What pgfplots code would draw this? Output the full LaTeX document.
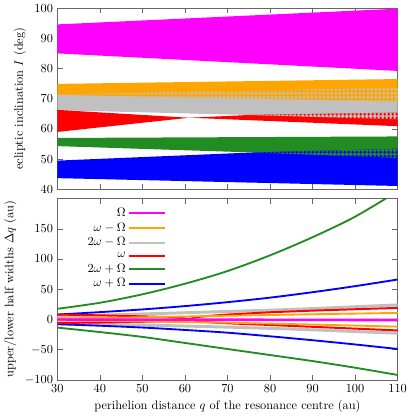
\documentclass[border=0pt]{standalone}
\usepackage{pgfplots}
\pgfplotsset{compat=1.18}
\usepgfplotslibrary{fillbetween}
\usetikzlibrary{patterns.meta}
\definecolor{cMag}{HTML}{FF00FF}
\definecolor{cOra}{HTML}{FFA500}
\definecolor{cGry}{HTML}{C0C0C0}
\definecolor{cRed}{HTML}{FF0000}
\definecolor{cGrn}{HTML}{228B22}
\definecolor{cBlu}{HTML}{0000FF}

% small plus signs, used where two bands overlap
\tikzdeclarepattern{
  name=pluses,
  type=uncolored,
  bounding box={(0pt,0pt) and (3.4pt,3.4pt)},
  tile size={(3.4pt,3.4pt)},
  code={
    \pgfsetlinewidth{1.1pt}
    \pgfpathmoveto{\pgfpoint{0.4pt}{1.7pt}}\pgfpathlineto{\pgfpoint{3.0pt}{1.7pt}}
    \pgfpathmoveto{\pgfpoint{1.7pt}{0.4pt}}\pgfpathlineto{\pgfpoint{1.7pt}{3.0pt}}
    \pgfusepath{stroke}
  }
}

\pgfplotsset{
  every axis/.append style={
    scale only axis, width=276pt, height=147pt,
    xmin=30, xmax=110, xtick={30,40,...,110},
    axis line style={black!60}, tick style={black!60},
  },
}

\begin{document}
\begin{tikzpicture}
% top: inclination bands
\begin{axis}[
  name=top,
  ymin=40, ymax=100, ytick={40,50,...,100},
  xticklabels={},
  ylabel={ecliptic inclination $I$ (deg)},
]
\addplot[name path=mU, draw=none, forget plot] coordinates {(30,94.6)(70,97.2)(110,99.8)};
\addplot[name path=mL, draw=none, forget plot] coordinates {(30,85.0)(70,82.1)(110,79.2)};
\addplot[name path=oU, draw=none, forget plot] coordinates {(30,74.9)(110,76.5)};
\addplot[name path=oL, draw=none, forget plot] coordinates {(30,71.3)(110,69.1)};
\addplot[name path=gU, draw=none, forget plot] coordinates {(30,71.4)(110,73.6)};
\addplot[name path=gL, draw=none, forget plot] coordinates {(30,66.2)(75,64.6)(110,63.2)};
\addplot[name path=rA, draw=none, forget plot] coordinates {(30,66.3)(61,63.7)(110,60.9)};
\addplot[name path=rB, draw=none, forget plot] coordinates {(30,59.0)(61,63.7)(75,64.6)(110,65.4)};
\addplot[name path=nU, draw=none, forget plot] coordinates {(30,57.0)(110,57.5)};
\addplot[name path=nL, draw=none, forget plot] coordinates {(30,54.3)(76,52.2)(110,50.4)};
\addplot[name path=bU, draw=none, forget plot] coordinates {(30,49.5)(76,52.2)(110,53.4)};
\addplot[name path=bL, draw=none, forget plot] coordinates {(30,43.7)(110,41.1)};

\addplot[cMag, forget plot] fill between[of=mU and mL];
\addplot[cOra, forget plot] fill between[of=oU and oL];
\addplot[cGry, forget plot] fill between[of=gU and gL];
\addplot[cRed, forget plot] fill between[of=rA and rB];
\addplot[cGrn, forget plot] fill between[of=nU and nL];
\addplot[cBlu, forget plot] fill between[of=bU and bL];
% overlaps
\addplot[cOra, forget plot] fill between[of=gU and oL];
\addplot[pattern=pluses, pattern color=cGry, forget plot] fill between[of=gU and oL];
\addplot[cGry, forget plot] fill between[of=gL and rB, soft clip={domain=75:110}];
\addplot[pattern=pluses, pattern color=cRed, forget plot] fill between[of=gL and rB, soft clip={domain=75:110}];
\addplot[cGrn, forget plot] fill between[of=nL and bU, soft clip={domain=76:110}];
\addplot[pattern=pluses, pattern color=cBlu, forget plot] fill between[of=nL and bU, soft clip={domain=76:110}];
\end{axis}

% bottom: half widths
\begin{axis}[
  at={(top.south west)}, anchor=north west, yshift=-7.5pt,
  ymin=-100, ymax=200, ytick={-100,-50,...,150},
  xlabel={perihelion distance $q$ of the resonance centre (au)},
  ylabel={upper/lower half widths $\Delta q$ (au)},
  legend cell align=right, legend plot pos=right,
  legend image code/.code={\draw[#1] (0pt,0pt) -- (29pt,0pt);},
  legend style={at={(0.07,0.975)}, anchor=north west, draw=none, fill=none,
    nodes={inner ysep=1.8pt}},
]
\addlegendimage{cMag, line width=1.6pt}\addlegendentry{$\Omega$}
\addlegendimage{cOra, line width=1.6pt}\addlegendentry{$\omega-\Omega$}
\addlegendimage{cGry, line width=1.6pt}\addlegendentry{$2\omega-\Omega$}
\addlegendimage{cRed, line width=1.6pt}\addlegendentry{$\omega$}
\addlegendimage{cGrn, line width=1.6pt}\addlegendentry{$2\omega+\Omega$}
\addlegendimage{cBlu, line width=1.6pt}\addlegendentry{$\omega+\Omega$}

% 2w - Omega
\addplot[cGry, line width=2.4pt, smooth, forget plot] coordinates {(30,5)(60,11)(85,16.5)(110,24)};
\addplot[cGry, line width=2.4pt, smooth, forget plot] coordinates {(30,-7)(60,-11)(85,-16)(110,-23)};
% 2w + Omega
\addplot[cGrn, line width=1.5pt, smooth, forget plot] coordinates {(30,17.5)(40,27.5)(50,41.5)(60,59)(70,80)(80,106)(90,136)(100,170)(110,212)};
\addplot[cGrn, line width=1.5pt, smooth, forget plot] coordinates {(30,-13.6)(40,-21)(50,-29)(60,-39)(70,-49)(80,-59)(90,-69)(100,-80)(110,-92)};
% w + Omega
\addplot[cBlu, line width=1.5pt, smooth, forget plot] coordinates {(30,8)(40,12)(50,16.5)(60,22)(70,28.5)(80,36)(90,45)(100,55)(110,66)};
\addplot[cBlu, line width=1.5pt, smooth, forget plot] coordinates {(30,-8)(40,-10.5)(50,-13.5)(60,-17.5)(70,-22)(80,-28)(90,-34.5)(100,-41.5)(110,-49)};
% w
\addplot[cRed, line width=1.6pt, forget plot] coordinates {(30,8)(40,6.7)(50,5)(56,3.8)(59,2.4)(61,0.5)(63,4)(66,6)(70,8)(80,11.8)(90,14.5)(100,16.8)(110,19)};
\addplot[cRed, line width=1.6pt, forget plot] coordinates {(30,-6)(40,-5.2)(50,-4)(56,-3)(59,-1.5)(61,0.5)(63,-3)(66,-5)(70,-6.5)(80,-9.3)(90,-12.3)(100,-15.3)(110,-18.3)};
% w - Omega
\addplot[cOra, line width=1.5pt, forget plot] coordinates {(30,1.5)(50,3.5)(70,6)(90,8.5)(110,10.7)};
\addplot[cOra, line width=1.5pt, forget plot] coordinates {(30,-1.5)(50,-3.5)(70,-5.5)(90,-8.5)(110,-12)};
% Omega
\addplot[cMag, line width=1.5pt, forget plot] coordinates {(30,0.3)(110,-0.3)};
\addplot[cMag, line width=1.5pt, forget plot] coordinates {(30,-0.7)(110,-1.7)};
\end{axis}
\end{tikzpicture}
\end{document}
